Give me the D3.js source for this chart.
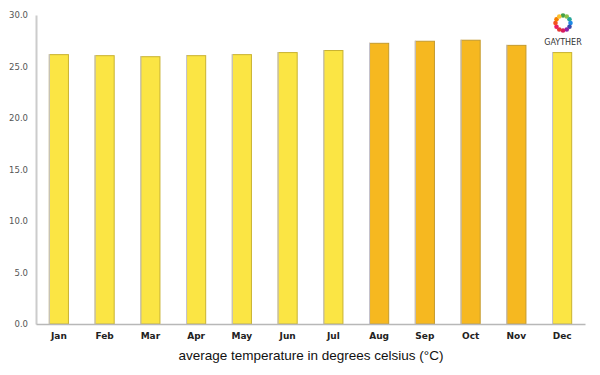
<!DOCTYPE html>
<html><head><meta charset="utf-8">
<script src="https://cdn.jsdelivr.net/npm/d3@7"></script>
<style>body{margin:0;background:#fff}svg{display:block}</style>
</head><body>
<svg id="c" width="600" height="375"></svg>
<script>
const months = ["Jan","Feb","Mar","Apr","May","Jun","Jul","Aug","Sep","Oct","Nov","Dec"];
const temps = [26.2,26.1,26.0,26.1,26.2,26.4,26.6,27.3,27.5,27.6,27.1,26.4];
const warm = [false,false,false,false,false,false,false,true,true,true,true,false];
const yTicks = [0,5,10,15,20,25,30];
const axisTitle = "average temperature in degrees celsius (°C)";

const svg = d3.select("#c");
const m = {l:36, r:15, t:15, b:51};
const W = 600, H = 375;
const x = d3.scaleBand().domain(months).range([m.l, W - m.r]).paddingInner(0.56).paddingOuter(0.28);
const y = d3.scaleLinear().domain([0,30]).range([H - m.b, m.t]);

// bars
const g = svg.append("g");
g.selectAll("rect").data(months).join("rect")
  .attr("x", d => x(d) + 0.5)
  .attr("y", (d,i) => y(temps[i]) + 0.5)
  .attr("width", x.bandwidth() - 1)
  .attr("height", (d,i) => y(0) - y(temps[i]) - 0.5)
  .attr("fill", (d,i) => warm[i] ? "#f6b820" : "#fbe544")
  .attr("stroke", (d,i) => warm[i] ? "#c49a2c" : "#c9b230")
  .attr("stroke-width", 1);
g.selectAll("line.l").data(months).join("line").attr("class","l")
  .attr("x1", d => x(d) + 0.5).attr("x2", d => x(d) + 0.5)
  .attr("y1", (d,i) => y(temps[i])).attr("y2", y(0))
  .attr("stroke", "#c4c4d4").attr("stroke-width", 1);

// y axis
const ya = svg.append("g").attr("transform", `translate(${m.l},0)`)
  .call(d3.axisLeft(y).tickValues(yTicks).tickFormat(d3.format(".1f")).tickSize(0).tickPadding(8));
ya.select(".domain").attr("stroke", "#cccccc").attr("stroke-width", 2);
ya.selectAll("text").attr("fill", "#555").style("font-family", "DejaVu Sans, sans-serif").style("font-size", "8.5px");

// x axis
const xa = svg.append("g").attr("transform", `translate(0,${y(0)})`)
  .call(d3.axisBottom(x).tickSize(0).tickPadding(9));
xa.select(".domain").attr("stroke", "#b8b8b8").attr("stroke-width", 1.5);
xa.selectAll("text").attr("fill", "#222").style("font-family", "DejaVu Sans, sans-serif").style("font-size", "9px").style("font-weight", "bold");

svg.append("text").attr("x", 311).attr("y", 360)
  .attr("text-anchor", "middle").attr("fill", "#111")
  .style("font-family", "Liberation Sans, Arial, sans-serif").style("font-size", "13.5px")
  .text(axisTitle);

// logo
const logo = svg.append("g").attr("transform", "translate(563,23)");
const cols = ["#43a047","#8bc34a","#26a69a","#1e88e5","#3949ab","#8e24aa","#d81b60","#e53935","#e91e63","#f4511e","#f57c00","#fbc02d"];
cols.forEach((c,i) => {
  const a = i / cols.length * 2 * Math.PI;
  logo.append("circle").attr("cx", 7.5*Math.sin(a)).attr("cy", -7.5*Math.cos(a)).attr("r", 2.3).attr("fill", c);
});
svg.append("text").attr("x", 563).attr("y", 45).attr("text-anchor", "middle")
  .attr("fill", "#333").style("font-family", "DejaVu Sans, sans-serif").style("font-size", "8px").text("GAYTHER");
</script>
</body></html>
